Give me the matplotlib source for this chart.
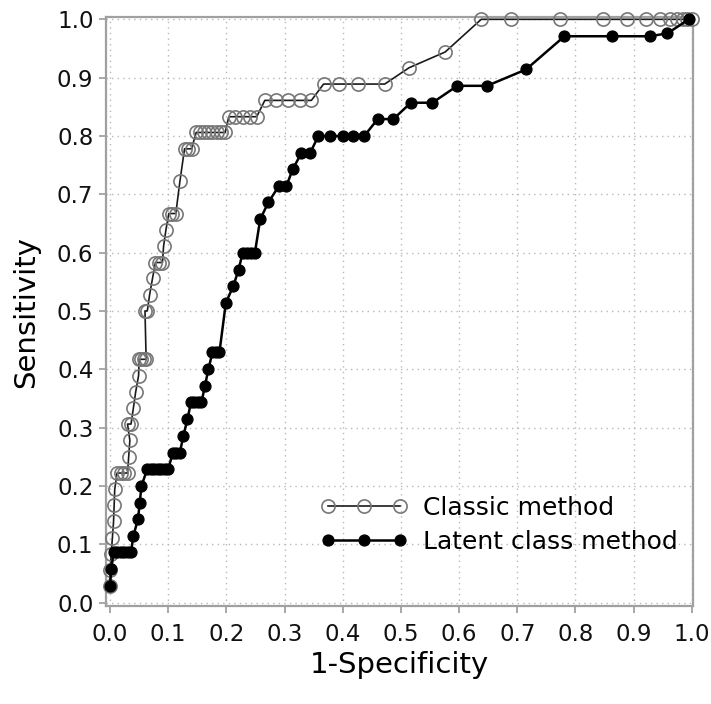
import matplotlib
matplotlib.use("Agg")
import matplotlib.pyplot as plt

# ROC points, classic method (1-specificity, sensitivity)
classic_fpr = [0.0, 0.0, 0.002, 0.004, 0.006, 0.007, 0.008, 0.012, 0.018, 0.024, 0.030,
               0.032, 0.034, 0.030, 0.036, 0.040, 0.044, 0.049, 0.050, 0.054, 0.058,
               0.062, 0.060, 0.064, 0.068, 0.073, 0.078, 0.084, 0.090, 0.092, 0.096,
               0.101, 0.107, 0.113, 0.120, 0.128, 0.134, 0.140, 0.148, 0.155, 0.162,
               0.169, 0.176, 0.183, 0.190, 0.198, 0.204, 0.215, 0.228, 0.240, 0.252,
               0.266, 0.286, 0.306, 0.326, 0.346, 0.367, 0.394, 0.427, 0.472, 0.514,
               0.576, 0.638, 0.690, 0.773, 0.848, 0.888, 0.922, 0.945, 0.962, 0.974,
               0.985, 0.992, 1.0]
classic_tpr = [0.028, 0.056, 0.083, 0.111, 0.139, 0.167, 0.194, 0.222, 0.222, 0.222, 0.222,
               0.250, 0.278, 0.306, 0.306, 0.333, 0.361, 0.389, 0.417, 0.417, 0.417,
               0.417, 0.500, 0.500, 0.528, 0.556, 0.583, 0.583, 0.583, 0.611, 0.639,
               0.667, 0.667, 0.667, 0.722, 0.778, 0.778, 0.778, 0.806, 0.806, 0.806,
               0.806, 0.806, 0.806, 0.806, 0.806, 0.833, 0.833, 0.833, 0.833, 0.833,
               0.861, 0.861, 0.861, 0.861, 0.861, 0.889, 0.889, 0.889, 0.889, 0.917,
               0.944, 1.0, 1.0, 1.0, 1.0, 1.0, 1.0, 1.0, 1.0, 1.0,
               1.0, 1.0, 1.0]

# ROC points, latent class method
latent_fpr = [0.0, 0.002, 0.006, 0.012, 0.018, 0.024, 0.030, 0.036, 0.040, 0.048,
              0.051, 0.054, 0.064, 0.070, 0.076, 0.082, 0.088, 0.094, 0.100, 0.108,
              0.114, 0.120, 0.126, 0.133, 0.139, 0.145, 0.151, 0.157, 0.163, 0.169,
              0.176, 0.182, 0.188, 0.199, 0.212, 0.221, 0.228, 0.236, 0.243, 0.249,
              0.258, 0.272, 0.290, 0.303, 0.314, 0.329, 0.344, 0.358, 0.378, 0.401,
              0.418, 0.437, 0.460, 0.487, 0.517, 0.554, 0.597, 0.648, 0.715, 0.781,
              0.863, 0.928, 0.958, 0.995]
latent_tpr = [0.029, 0.057, 0.086, 0.086, 0.086, 0.086, 0.086, 0.086, 0.114, 0.143,
              0.171, 0.200, 0.229, 0.229, 0.229, 0.229, 0.229, 0.229, 0.229, 0.257,
              0.257, 0.257, 0.286, 0.314, 0.343, 0.343, 0.343, 0.343, 0.371, 0.400,
              0.429, 0.429, 0.429, 0.514, 0.543, 0.571, 0.600, 0.600, 0.600, 0.600,
              0.657, 0.686, 0.714, 0.714, 0.743, 0.771, 0.771, 0.800, 0.800, 0.800,
              0.800, 0.800, 0.829, 0.829, 0.857, 0.857, 0.886, 0.886, 0.914, 0.971,
              0.971, 0.971, 0.976, 1.0]

ticks = [i / 10 for i in range(11)]
tick_labels = [f"{t:.1f}" for t in ticks]

fig = plt.figure(figsize=(7.11, 7.04), dpi=100)
ax = fig.add_axes([106 / 711, 1 - 606 / 704, (693 - 106) / 711, (606 - 17) / 704])

ax.plot(classic_fpr, classic_tpr, color="#1a1a1a", linewidth=1.2,
        marker="o", markersize=9.5, markerfacecolor="none",
        markeredgecolor="#777777", markeredgewidth=1.2,
        label="Classic method", clip_on=False, zorder=3)
ax.plot(latent_fpr, latent_tpr, color="black", linewidth=1.8,
        marker="o", markersize=7.8, markerfacecolor="black",
        markeredgecolor="black", label="Latent class method",
        clip_on=False, zorder=4)

ax.set_xlim(-0.007, 1.002)
ax.set_ylim(-0.006, 1.004)
ax.set_xticks(ticks)
ax.set_xticklabels(tick_labels)
ax.set_yticks(ticks)
ax.set_yticklabels(tick_labels)
ax.tick_params(labelsize=16.5, colors="#999999", labelcolor="#111111",
               length=5, width=1.2, direction="out")
ax.tick_params(axis="x", pad=7)
ax.tick_params(axis="y", pad=4)
ax.grid(True, linestyle=(0, (1, 3)), color="#b8b8b8", linewidth=1.0)

for s in ax.spines.values():
    s.set_color("#a0a0a0")
    s.set_linewidth(1.6)

ax.set_xlabel("1-Specificity", fontsize=21, labelpad=4)
ax.set_ylabel("Sensitivity", fontsize=21, labelpad=12)

ax.legend(loc="lower right", bbox_to_anchor=(1.012, 0.05), frameon=False,
          fontsize=18, numpoints=3, handlelength=3.5, handletextpad=0.6,
          labelspacing=0.4)

fig.savefig("out.png", dpi=100)
